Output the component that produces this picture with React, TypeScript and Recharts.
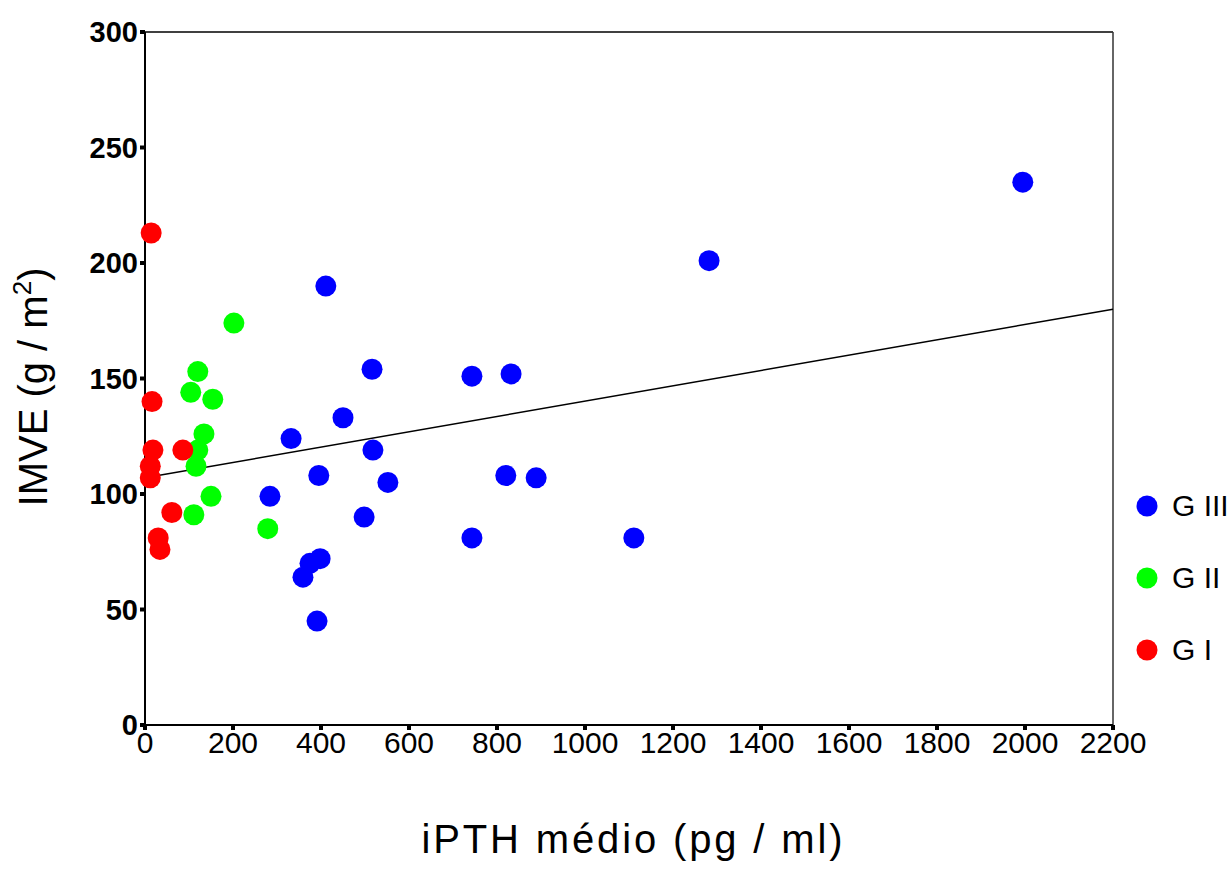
import React from 'react';
import {
  ScatterChart,
  Scatter,
  XAxis,
  YAxis,
  ReferenceLine,
  Legend,
} from 'recharts';

// iPTH médio (pg/ml) vs IMVE (g/m2)
const gIII = [
  { x: 411, y: 190 },
  { x: 516, y: 154 },
  { x: 743, y: 151 },
  { x: 832, y: 152 },
  { x: 450, y: 133 },
  { x: 332, y: 124 },
  { x: 518, y: 119 },
  { x: 395, y: 108 },
  { x: 552, y: 105 },
  { x: 820, y: 108 },
  { x: 889, y: 107 },
  { x: 284, y: 99 },
  { x: 498, y: 90 },
  { x: 743, y: 81 },
  { x: 1111, y: 81 },
  { x: 398, y: 72 },
  { x: 375, y: 70 },
  { x: 359, y: 64 },
  { x: 391, y: 45 },
  { x: 1282, y: 201 },
  { x: 1995, y: 235 },
];

const gII = [
  { x: 202, y: 174 },
  { x: 120, y: 153 },
  { x: 104, y: 144 },
  { x: 154, y: 141 },
  { x: 134, y: 126 },
  { x: 120, y: 119 },
  { x: 116, y: 112 },
  { x: 150, y: 99 },
  { x: 111, y: 91 },
  { x: 279, y: 85 },
];

const gI = [
  { x: 14, y: 213 },
  { x: 16, y: 140 },
  { x: 18, y: 119 },
  { x: 86, y: 119 },
  { x: 12, y: 112 },
  { x: 12, y: 107 },
  { x: 61, y: 92 },
  { x: 30, y: 81 },
  { x: 34, y: 76 },
];

const xTicks = [0, 200, 400, 600, 800, 1000, 1200, 1400, 1600, 1800, 2000, 2200];
const yTicks = [0, 50, 100, 150, 200, 250, 300];

// fitted line end points (x, y)
const fitLine = [
  { x: 0, y: 107 },
  { x: 2200, y: 180 },
];

const groups = [
  { name: 'G III', color: '#0000FF' },
  { name: 'G II', color: '#00FF00' },
  { name: 'G I', color: '#FF0000' },
];

const FONT = '"Liberation Sans", Arial, sans-serif';

const dot = (color: string) => (props: any) => (
  <circle cx={props.cx} cy={props.cy} r={10.5} fill={color} />
);

const LegendBox = () => (
  <div style={{ fontFamily: FONT }}>
    {groups.map((g) => (
      <div
        key={g.name}
        style={{ display: 'flex', alignItems: 'center', height: 72 }}
      >
        <svg width={24} height={24}>
          <circle cx={12} cy={12} r={10.5} fill={g.color} />
        </svg>
        <span style={{ fontSize: 30, marginLeft: 13, color: '#000' }}>{g.name}</span>
      </div>
    ))}
  </div>
);

export default function App() {
  return (
    <div style={{ position: 'absolute', left: 0, top: 0, background: '#fff' }}>
      <ScatterChart
        width={1232}
        height={870}
        margin={{ top: 32, right: 19, bottom: 0, left: 0 }}
      >
        <XAxis
          type="number"
          dataKey="x"
          domain={[0, 2200]}
          ticks={xTicks}
          height={145}
          axisLine={{ stroke: '#000', strokeWidth: 2 }}
          tickLine={{ stroke: '#000', strokeWidth: 4 }}
          tickSize={5}
          tick={{ fill: '#000', fontSize: 30, fontFamily: FONT }}
          label={{
            content: () => (
              <text
                x={632}
                y={853}
                textAnchor="middle"
                fontSize={40}
                fontFamily={FONT}
                fill="#000"
                textLength={421}
                lengthAdjust="spacing"
              >
                iPTH médio (pg / ml)
              </text>
            ),
          }}
        />
        <YAxis
          type="number"
          dataKey="y"
          domain={[0, 300]}
          ticks={yTicks}
          width={145}
          axisLine={{ stroke: '#000', strokeWidth: 2 }}
          tickLine={{ stroke: '#000', strokeWidth: 4 }}
          tickSize={5}
          tick={{ fill: '#000', fontSize: 29, fontFamily: FONT, fontWeight: 'bold' }}
          label={{
            content: () => (
              <text
                x={47}
                y={387}
                transform="rotate(-90 47 387)"
                textAnchor="middle"
                fontSize={40}
                fontFamily={FONT}
                fill="#000"
              >
                IMVE (g / m
                <tspan fontSize={26} dy={-16}>2</tspan>
                <tspan dy={16}>)</tspan>
              </text>
            ),
          }}
        />
        <ReferenceLine y={300} stroke="#000" strokeWidth={1.5} />
        <ReferenceLine x={2200} stroke="#333" strokeWidth={1.5} />
        <ReferenceLine
          segment={fitLine}
          stroke="#000"
          strokeWidth={1.5}
          ifOverflow="extendDomain"
        />
        <Scatter name="G III" data={gIII} fill="#0000FF" shape={dot('#0000FF')} isAnimationActive={false} />
        <Scatter name="G II" data={gII} fill="#00FF00" shape={dot('#00FF00')} isAnimationActive={false} />
        <Scatter name="G I" data={gI} fill="#FF0000" shape={dot('#FF0000')} isAnimationActive={false} />
        <Legend
          layout="vertical"
          align="right"
          verticalAlign="top"
          wrapperStyle={{ left: 1135, top: 470, width: 100 }}
          content={() => <LegendBox />}
        />
      </ScatterChart>
    </div>
  );
}
